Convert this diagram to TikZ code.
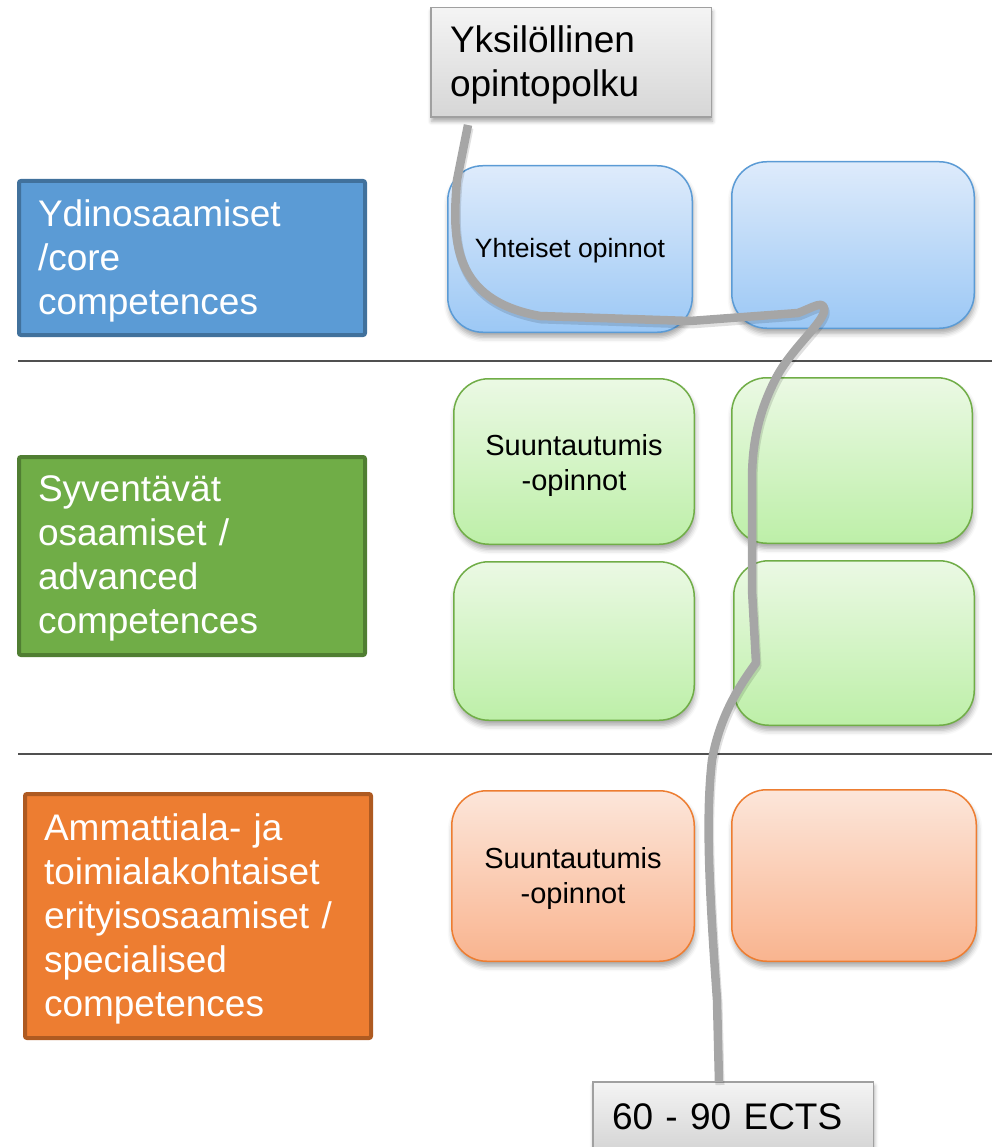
\documentclass[tikz,border=0pt]{standalone}
\usepackage{fontspec}
\setmainfont{Liberation Sans}
\usetikzlibrary{shadows.blur}
\definecolor{coreFill}{HTML}{5B9BD5}
\definecolor{coreLine}{HTML}{41719C}
\definecolor{advFill}{HTML}{70AD47}
\definecolor{advLine}{HTML}{507E32}
\definecolor{specFill}{HTML}{ED7D31}
\definecolor{specLine}{HTML}{AE5A21}
\definecolor{blueTop}{HTML}{DEEBFB}
\definecolor{blueBot}{HTML}{9CC8F5}
\definecolor{greenTop}{HTML}{EBF9E4}
\definecolor{greenBot}{HTML}{BDEFA8}
\definecolor{orangeTop}{HTML}{FCE6DA}
\definecolor{orangeBot}{HTML}{F9B48F}
\definecolor{grayTop}{HTML}{F4F4F4}
\definecolor{grayBot}{HTML}{D6D6D6}
\definecolor{grayLine}{HTML}{A0A0A0}
\definecolor{pathGray}{HTML}{A6A6A6}
\definecolor{ruleGray}{HTML}{505050}
\begin{document}
\begin{tikzpicture}[x=1pt,y=-1pt,
  bigtext/.style={font=\fontsize{37}{44}\selectfont},
  levelbox/.style={line width=4pt, rounded corners=2pt, minimum width=346pt},
  leveltext/.style={bigtext, text=white, inner sep=0pt, text width=308pt, align=left},
  cell/.style={rounded corners=35pt, line width=1.5pt,
    blur shadow={shadow xshift=1pt, shadow yshift=-5pt, shadow blur radius=5pt, shadow opacity=35},
    inner sep=0pt},
  celltext/.style={align=center, font=\fontsize{29}{35}\selectfont, text=black, inner sep=0pt},
  bluecell/.style={cell, draw=coreFill, top color=blueTop, bottom color=blueBot},
  greencell/.style={cell, draw=advFill, top color=greenTop, bottom color=greenBot},
  orangecell/.style={cell, draw=specFill, top color=orangeTop, bottom color=orangeBot},
  graybox/.style={bigtext, draw=grayLine, line width=1.5pt, top color=grayTop, bottom color=grayBot,
    blur shadow={shadow xshift=1pt, shadow yshift=-4pt, shadow blur radius=4pt, shadow opacity=35},
    minimum width=280.5pt, inner xsep=19pt, text width=242pt, align=left},
  rule/.style={ruleGray, line width=1.5pt},
  route/.style={pathGray, line width=8.5pt, line join=round},
  routeshadow/.style={black, opacity=0.12, line width=9pt, line join=round}
]
\useasboundingbox (0,0) rectangle (992,1147);

% separators
\coordinate (r1a) at (18,361); \coordinate (r1b) at (992,361);
\coordinate (r2a) at (18,754); \coordinate (r2b) at (992,754);
\draw[rule] (r1a) -- (r1b);
\draw[rule] (r2a) -- (r2b);

% level boxes
\node[levelbox, fill=coreFill, draw=coreLine, minimum height=154pt] (core) at (192,258) {};
\node[leveltext] (coret) at ([yshift=-3pt]core.center) {Ydinosaamiset\\/core\\competences};
\node[levelbox, fill=advFill, draw=advLine, minimum height=198pt] (adv) at (192,556) {};
\node[leveltext] (advt) at ([yshift=-2.5pt]adv.center) {Syventävät\\osaamiset /\\advanced\\competences};
\node[levelbox, fill=specFill, draw=specLine, minimum height=244pt] (spec) at (198,916) {};
\node[leveltext] (spect) at ([yshift=-3pt]spec.center) {Ammattiala- ja\\toimialakohtaiset\\erityisosaamiset /\\specialised\\competences};

% cells
\node[bluecell, minimum width=244.5pt, minimum height=166.5pt] (b1) at (570,249) {};
\node[celltext, font=\fontsize{26.5}{30}\selectfont] (b1t) at ([yshift=-2pt]b1.center) {Yhteiset opinnot};
\node[bluecell, minimum width=242.5pt, minimum height=166.5pt] (b2) at (853,245) {};
\node[greencell, minimum width=240.5pt, minimum height=165.5pt] (g1) at (574,461.5) {};
\node[celltext] (g1t) at ([yshift=-4pt]g1.center) {Suuntautumis\\-opinnot};
\node[greencell, minimum width=240.5pt, minimum height=165.5pt] (g2) at (852,460.5) {};
\node[greencell, minimum width=240.5pt, minimum height=158.5pt] (g3) at (574,641) {};
\node[greencell, minimum width=240.5pt, minimum height=164.5pt] (g4) at (854,643) {};
\node[orangecell, minimum width=242.5pt, minimum height=170.5pt] (o1) at (573,876) {};
\node[celltext] (o1t) at ([yshift=-2pt]o1.center) {Suuntautumis\\-opinnot};
\node[orangecell, minimum width=244.5pt, minimum height=171.5pt] (o2) at (854,875.5) {};

% top and bottom boxes
\node[graybox, minimum height=109.5pt] (path) at (571,62.5) {};
\node[bigtext, inner sep=0pt, text width=242pt, align=left] (patht) at ([yshift=-2pt]path.center) {Yksilöllinen\\opintopolku};
\node[graybox, minimum height=66pt] (ects) at (733,1115) {};
\node[bigtext, inner sep=0pt, text width=242pt, align=left] (ectst) at ([yshift=-1.5pt]ects.center) {60 - 90 ECTS};

% the individual study path
\coordinate (pstart) at (468,125);
\coordinate (pend) at (719,1082);
\draw[routeshadow, transform canvas={shift={(1pt,-3pt)}}] (pstart) -- (457,180)
  .. controls (452,240) and (452,300) .. (540,316)
  -- (690,321) -- (798,313)
  .. controls (812,308) and (826,298) .. (824,312)
  .. controls (820,326) and (790,350) .. (775,380)
  .. controls (760,410) and (752,440) .. (752,480)
  -- (752,590) -- (756,663)
  .. controls (740,685) and (720,715) .. (712,760)
  .. controls (705,820) and (710,900) .. (717,1000)
  -- (pend);
\draw[route] (pstart) -- (457,180)
  .. controls (452,240) and (452,300) .. (540,316)
  -- (690,321) -- (798,313)
  .. controls (812,308) and (826,298) .. (824,312)
  .. controls (820,326) and (790,350) .. (775,380)
  .. controls (760,410) and (752,440) .. (752,480)
  -- (752,590) -- (756,663)
  .. controls (740,685) and (720,715) .. (712,760)
  .. controls (705,820) and (710,900) .. (717,1000)
  -- (pend);
\end{tikzpicture}
\end{document}
